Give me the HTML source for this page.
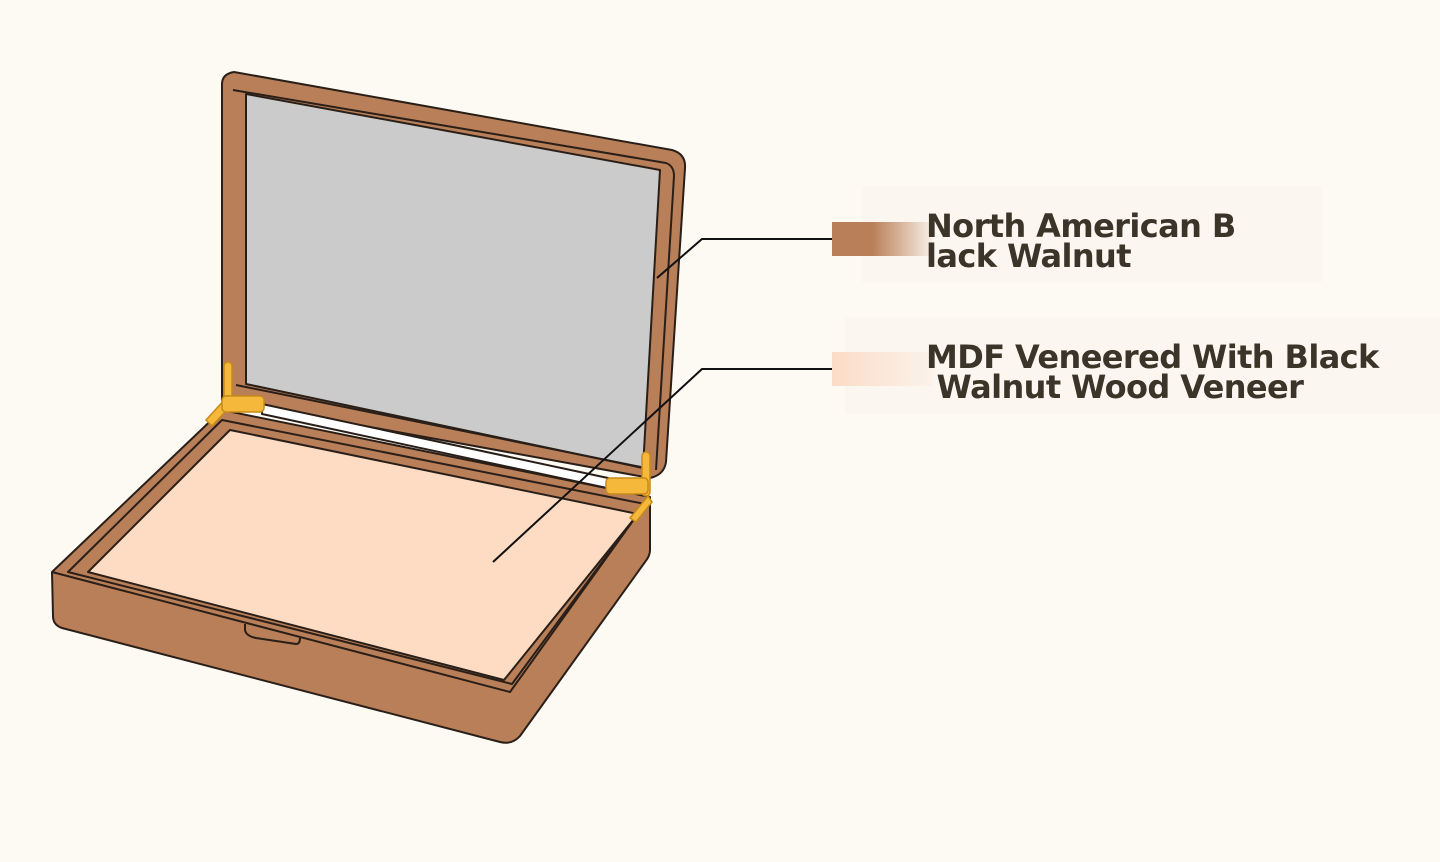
<!DOCTYPE html>
<html><head><meta charset="utf-8"><style>
html,body{margin:0;padding:0;background:#fdf9f3;width:1440px;height:862px;overflow:hidden}
svg{position:absolute;left:0;top:0}
.t{position:absolute;font-family:"DejaVu Sans","Liberation Sans",sans-serif;font-weight:bold;color:#3a3528;font-size:32px;line-height:30px;letter-spacing:-0.6px;white-space:pre}
</style></head><body>
<svg width="1440" height="862" viewBox="0 0 1440 862">
<defs>
<linearGradient id="g1" x1="0" x2="1"><stop offset="0.4" stop-color="#b97f58"/><stop offset="1" stop-color="#f8efe6"/></linearGradient>
<linearGradient id="g2" x1="0" x2="1"><stop offset="0" stop-color="#fbdcc6"/><stop offset="1" stop-color="#fbf2ea"/></linearGradient>
</defs>
<rect x="862" y="186" width="460" height="96" fill="#fbf6f0"/>
<rect x="845" y="318" width="595" height="96" fill="#fbf6f0"/>
<g stroke="#2a1f18" stroke-width="2" stroke-linejoin="round">
<path d="M222,84 Q222,74 234,72 L672,150 Q686,154 685,168 L666,462 Q664,475 650,478 L222,400 Z" fill="#b97f58"/>
<path d="M233,90 L666,163 Q674,166 674,176 L656,470" fill="none"/>
<path d="M246,94 L660,170 L643,468 L246,384 Z" fill="#cbcbcb"/>
<path d="M236,385 L646,468 M230,398 L644,486" fill="none"/>
<path d="M262,404 L608,478 L607,488 L262,414 Z" fill="#ffffff"/>
<path d="M52,572 L222,410 L650,497 L650,550 Q650,556 645,562 L520,736 Q512,745 500,742 L62,628 Q53,625 53,616 Z" fill="#b97f58"/>
<path d="M52,572 L510,692 L650,497" fill="none"/>
<path d="M68,572 L222,420 L645,504 L512,684 Z" fill="none"/>
<path d="M88,572 L230,430 L638,514 L504,680 Z" fill="#fedcc4"/>
<path d="M245,624 L245,630 Q246,636 256,638 L296,644 Q300,644 300,638" fill="none"/>
</g>
<g fill="#f5b83a" stroke="#c88a18" stroke-width="1.5">
<rect x="224" y="362" width="8" height="50" rx="4"/>
<path d="M206,420 L228,396 L234,402 L212,426 Z"/>
<rect x="222" y="396" width="42" height="16" rx="4"/>
<rect x="642" y="452" width="8" height="44" rx="4"/>
<path d="M630,518 L648,496 L652,502 L636,522 Z"/>
<rect x="606" y="478" width="42" height="16" rx="4"/>
</g>
<g stroke="#111" stroke-width="2" fill="none">
<path d="M657,278 L702,239 L832,239"/>
<path d="M493,562 L702,369 L832,369"/>
</g>
<rect x="832" y="222" width="100" height="34" fill="url(#g1)"/>
<rect x="832" y="352" width="100" height="34" fill="url(#g2)"/>
</svg>
<div class="t" style="left:926px;top:211px">North American B
lack Walnut</div>
<div class="t" style="left:926px;top:342px">MDF Veneered With Black
 Walnut Wood Veneer</div>
</body></html>
